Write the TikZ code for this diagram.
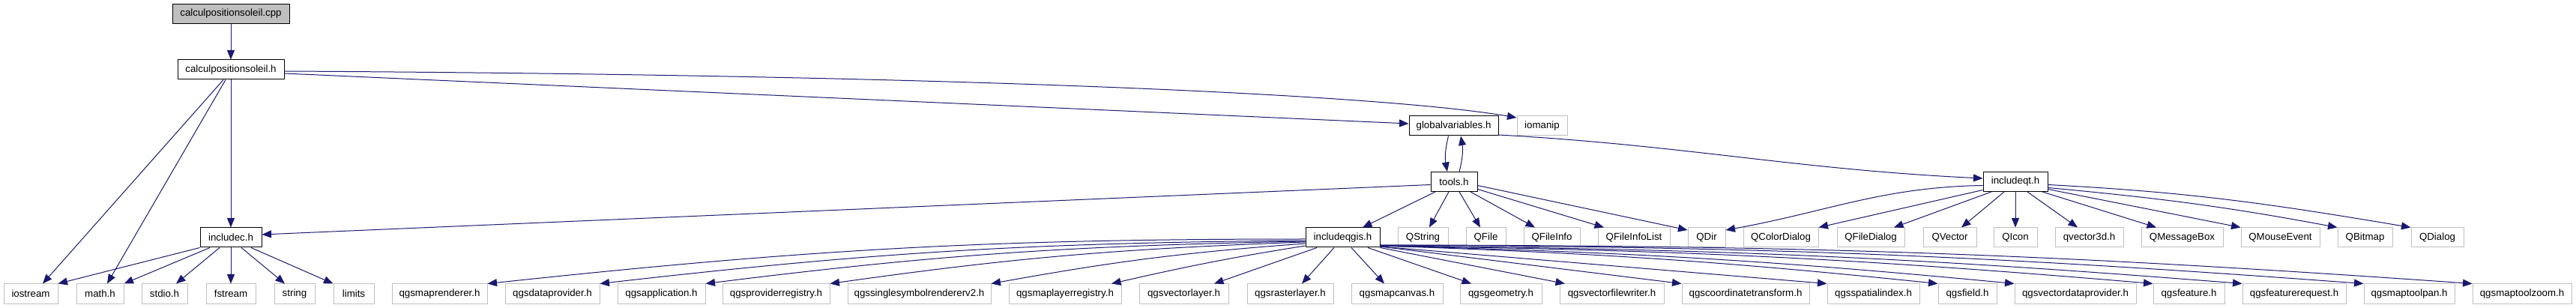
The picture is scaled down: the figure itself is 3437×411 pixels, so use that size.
\documentclass[tikz,border=0pt]{standalone}
\usepackage{fontspec}
\newfontfamily\dfont{Liberation Sans}
\usetikzlibrary{arrows.meta}
\definecolor{edgeblue}{HTML}{191970}
\definecolor{extgray}{HTML}{BFBFBF}
\definecolor{cppfill}{HTML}{BFBFBF}
\tikzset{
  basebox/.style={rectangle, line width=1pt, minimum height=26pt, inner sep=0pt,
    font={\dfont\fontsize{13.3}{16}\selectfont}},
  docbox/.style={basebox, draw=black, fill=white},
  mainbox/.style={basebox, draw=black, fill=cppfill},
  extbox/.style={basebox, draw=extgray, fill=white},
  dep/.style={draw=edgeblue, line width=1pt, -{Triangle[length=12.5pt,width=10pt]}}
}
\begin{document}
\begin{tikzpicture}[x=1pt,y=1pt]
\fill[white] (0,0) rectangle (3437,-411);
\useasboundingbox (0,0) rectangle (3437,-411);
% rows
\node[mainbox, minimum width=156pt] (cpp) at (308,-18.5) {calculpositionsoleil.cpp};
\node[docbox, minimum width=142pt] (calch) at (308,-93) {calculpositionsoleil.h};
\node[docbox, minimum width=119pt] (gv) at (1939.5,-168) {globalvariables.h};
\node[extbox, minimum width=67pt] (iomanip) at (2057.5,-168) {iomanip};
\node[docbox, minimum width=62pt] (tools) at (1940,-242.5) {tools.h};
\node[docbox, minimum width=86pt] (iqt) at (2689,-242.5) {includeqt.h};
% row E
\node[docbox, minimum width=82pt] (includec) at (308,-317) {includec.h};
\node[docbox, minimum width=99pt] (iq) at (1791.5,-317) {includeqgis.h};
\node[extbox, minimum width=67pt] (qstring) at (1898.5,-317) {QString};
\node[extbox, minimum width=53pt] (qfile) at (1982.5,-317) {QFile};
\node[extbox, minimum width=75pt] (qfileinfo) at (2070.5,-317) {QFileInfo};
\node[extbox, minimum width=96pt] (qfil) at (2180,-317) {QFileInfoList};
\node[extbox, minimum width=50pt] (qdir) at (2277,-317) {QDir};
\node[extbox, minimum width=100pt] (qcd) at (2376,-317) {QColorDialog};
\node[extbox, minimum width=90pt] (qfd) at (2496,-317) {QFileDialog};
\node[extbox, minimum width=71pt] (qvector) at (2601.5,-317) {QVector};
\node[extbox, minimum width=58pt] (qicon) at (2689,-317) {QIcon};
\node[extbox, minimum width=91pt] (qv3d) at (2787.5,-317) {qvector3d.h};
\node[extbox, minimum width=109pt] (qmb) at (2911.5,-317) {QMessageBox};
\node[extbox, minimum width=105pt] (qme) at (3042.5,-317) {QMouseEvent};
\node[extbox, minimum width=73pt] (qbm) at (3155.5,-317) {QBitmap};
\node[extbox, minimum width=70pt] (qdlg) at (3252,-317) {QDialog};
% row F
\node[extbox, minimum width=72pt] (iostream) at (41,-392) {iostream};
\node[extbox, minimum width=63pt] (mathh) at (133.5,-392) {math.h};
\node[extbox, minimum width=61pt] (stdioh) at (219.5,-392) {stdio.h};
\node[extbox, minimum width=66pt] (fstream) at (308,-392) {fstream};
\node[extbox, minimum width=54pt] (string) at (393,-392) {string};
\node[extbox, minimum width=54pt] (limits) at (472,-392) {limits};
\node[extbox, minimum width=127pt] (mr) at (586.5,-392) {qgsmaprenderer.h};
\node[extbox, minimum width=126pt] (dp) at (737,-392) {qgsdataprovider.h};
\node[extbox, minimum width=117pt] (app) at (882.5,-392) {qgsapplication.h};
\node[extbox, minimum width=143pt] (pr) at (1035.5,-392) {qgsproviderregistry.h};
\node[extbox, minimum width=191pt] (ss) at (1226.5,-392) {qgssinglesymbolrendererv2.h};
\node[extbox, minimum width=150pt] (mlr) at (1421,-392) {qgsmaplayerregistry.h};
\node[extbox, minimum width=119pt] (vl) at (1579.5,-392) {qgsvectorlayer.h};
\node[extbox, minimum width=115pt] (rl) at (1721.5,-392) {qgsrasterlayer.h};
\node[extbox, minimum width=122pt] (mc) at (1864,-392) {qgsmapcanvas.h};
\node[extbox, minimum width=109pt] (geo) at (2002.5,-392) {qgsgeometry.h};
\node[extbox, minimum width=139pt] (vfw) at (2150.5,-392) {qgsvectorfilewriter.h};
\node[extbox, minimum width=170pt] (ct) at (2329,-392) {qgscoordinatetransform.h};
\node[extbox, minimum width=123pt] (si) at (2499.5,-392) {qgsspatialindex.h};
\node[extbox, minimum width=78pt] (fld) at (2625,-392) {qgsfield.h};
\node[extbox, minimum width=162pt] (vdp) at (2769,-392) {qgsvectordataprovider.h};
\node[extbox, minimum width=95pt] (feat) at (2920.5,-392) {qgsfeature.h};
\node[extbox, minimum width=138pt] (fr) at (3061,-392) {qgsfeaturerequest.h};
\node[extbox, minimum width=121pt] (mtp) at (3214.5,-392) {qgsmaptoolpan.h};
\node[extbox, minimum width=132pt] (mtz) at (3365,-392) {qgsmaptoolzoom.h};

% edges
\draw[dep] (cpp.south) -- (calch.north);
\draw[dep] ([xshift=-10pt]calch.south) -- ([xshift=16pt]iostream.north);
\draw[dep] ([xshift=-7pt]calch.south) -- ([xshift=9.5pt]mathh.north);
\draw[dep] (calch.south) -- (includec.north);
\draw[dep] ([yshift=-5pt]calch.east) -- ([yshift=3pt]gv.west);
\draw[dep] ([yshift=-2pt]calch.east) .. controls +(920,-5) and +(-175,30) .. ([yshift=11pt]iomanip.west);
\draw[dep] ([xshift=-7pt]gv.south) to[bend right=12] ([xshift=-9pt]tools.north);
\draw[dep] ([xshift=7pt]tools.north) to[bend right=12] ([xshift=9.5pt]gv.south);
\draw[dep] ([yshift=-12pt]gv.east) .. controls +(250,-14) and +(-250,12) .. ([yshift=4.5pt]iqt.west);
\draw[dep] ([yshift=-4pt]tools.west) -- ([yshift=4pt]includec.east);
\draw[dep] ([xshift=-25pt]tools.south) -- ([xshift=26.5pt]iq.north);
\draw[dep] ([xshift=-7pt]tools.south) -- ([xshift=8.5pt]qstring.north);
\draw[dep] ([xshift=7pt]tools.south) -- ([xshift=-7.5pt]qfile.north);
\draw[dep] ([xshift=22pt]tools.south) -- ([xshift=-22.5pt]qfileinfo.north);
\draw[dep] ([yshift=-10pt]tools.east) -- ([xshift=-40pt]qfil.north);
\draw[dep] ([yshift=-5pt]tools.east) -- ([yshift=10pt]qdir.west);
% includeqt
\draw[dep] ([yshift=-5pt]iqt.west) .. controls +(-134,-2) and +(134,24) .. ([yshift=10pt]qdir.east);
\draw[dep] ([yshift=-11pt]iqt.west) -- (qcd.north east);
\draw[dep] ([xshift=-32pt]iqt.south) -- ([xshift=31pt]qfd.north);
\draw[dep] ([xshift=-15pt]iqt.south) -- ([xshift=15.5pt]qvector.north);
\draw[dep] (iqt.south) -- (qicon.north);
\draw[dep] ([xshift=16pt]iqt.south) -- ([xshift=-15.5pt]qv3d.north);
\draw[dep] ([xshift=36pt]iqt.south) -- ([xshift=-34.5pt]qmb.north);
\draw[dep] ([yshift=-10pt]iqt.east) -- (qme.north west);
\draw[dep] ([yshift=-8pt]iqt.east) .. controls +(150,-14) and +(-150,28) .. (qbm.north west);
\draw[dep] ([yshift=-4pt]iqt.east) .. controls +(190,-10) and +(-190,32) .. (qdlg.north west);
% includec
\draw[dep] (includec.south west) -- (iostream.north east);
\draw[dep] ([xshift=-28pt]includec.south) -- (mathh.north east);
\draw[dep] ([xshift=-15pt]includec.south) -- ([xshift=15.5pt]stdioh.north);
\draw[dep] (includec.south) -- (fstream.north);
\draw[dep] ([xshift=14pt]includec.south) -- ([xshift=-13pt]string.north);
\draw[dep] ([xshift=27pt]includec.south) -- (limits.north west);
% includeqgis, left side
\draw[dep] ([yshift=-2pt]iq.west) .. controls +(-426,0) and +(426,45.5) .. (mr.north east);
\draw[dep] ([yshift=-4pt]iq.west) .. controls +(-367,-3) and +(367,42) .. (dp.north east);
\draw[dep] ([yshift=-5pt]iq.west) .. controls +(-312,-6) and +(312,39) .. (app.north east);
\draw[dep] ([yshift=-6pt]iq.west) .. controls +(-248,-9) and +(248,35) .. (pr.north east);
\draw[dep] ([yshift=-8pt]iq.west) .. controls +(-164,-12) and +(164,29.5) .. (ss.north east);
\draw[dep] ([yshift=-11pt]iq.west) .. controls +(-101,-16) and +(101,23) .. ([xshift=62pt]mlr.north);
\draw[dep] ([xshift=-34.5pt]iq.south) -- ([xshift=40.5pt]vl.north);
\draw[dep] ([xshift=-11.5pt]iq.south) -- ([xshift=15.5pt]rl.north);
\draw[dep] ([xshift=11.5pt]iq.south) -- ([xshift=-17pt]mc.north);
\draw[dep] ([xshift=33.5pt]iq.south) -- ([xshift=-39.5pt]geo.north);
% includeqgis, right side
\draw[dep] (iq.south east) -- ([xshift=-62.5pt]vfw.north);
\draw[dep] ([yshift=-12pt]iq.east) -- (ct.north west);
\draw[dep] ([yshift=-12pt]iq.east) -- (si.north west);
\draw[dep] ([yshift=-11pt]iq.east) .. controls +(291,-9.7) and +(-291,30) .. (fld.north west);
\draw[dep] ([yshift=-11pt]iq.east) .. controls +(330,-8.4) and +(-330,31.5) .. (vdp.north west);
\draw[dep] ([yshift=-11pt]iq.east) .. controls +(402,-5.8) and +(-402,34) .. (feat.north west);
\draw[dep] ([yshift=-11pt]iq.east) .. controls +(449,-4.2) and +(-449,35.7) .. (fr.north west);
\draw[dep] ([yshift=-10pt]iq.east) .. controls +(512,-2.4) and +(-512,38) .. (mtp.north west);
\draw[dep] ([yshift=-10pt]iq.east) .. controls +(569,-0.4) and +(-569,40) .. (mtz.north west);
\end{tikzpicture}
\end{document}
